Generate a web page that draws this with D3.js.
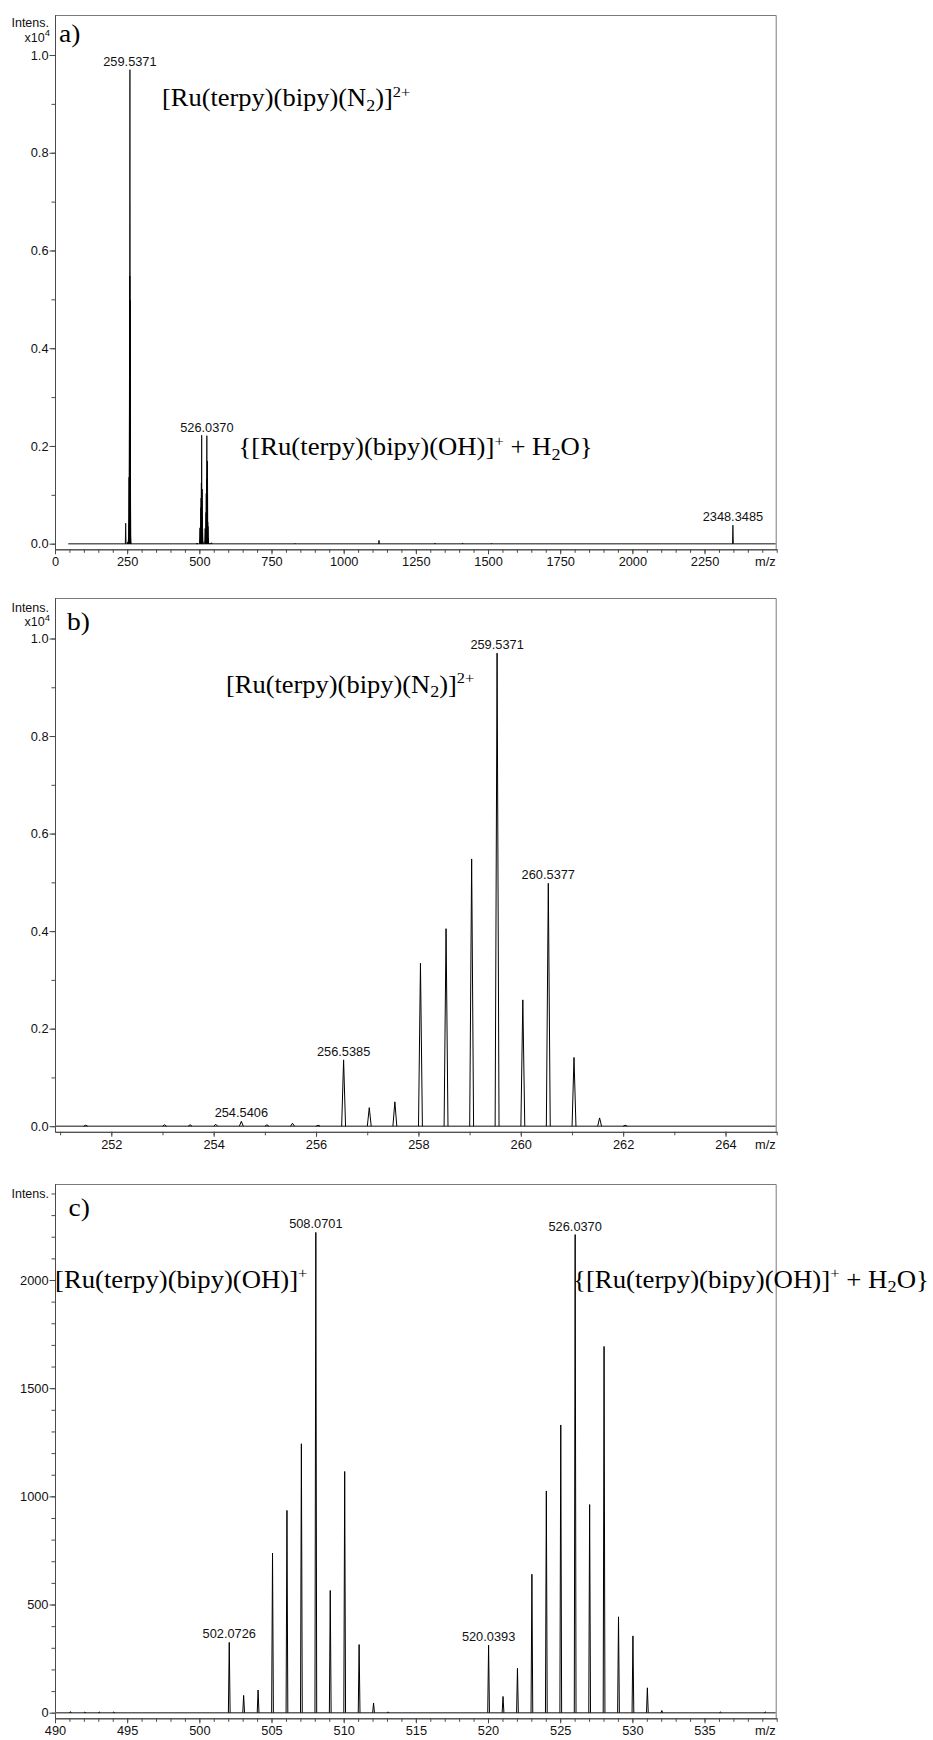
<!DOCTYPE html>
<html><head><meta charset="utf-8">
<script src="https://cdn.jsdelivr.net/npm/d3@7"></script>
<style>body{margin:0;background:#fff}svg{display:block}text{white-space:pre}</style>
</head><body>
<svg id="chart" width="933" height="1740"></svg>
<script>
// ---------- DATA ----------
// panel b: isotope pattern of [Ru(terpy)(bipy)(N2)]2+ (intensity x10^4)
const bMz  = [251.50,253.04,253.54,254.04,254.5406,255.04,255.54,256.04,256.5385,257.04,257.54,258.04,258.54,259.04,259.5371,260.04,260.5377,261.04,261.54,262.04];
const bInt = [0.002,0.003,0.003,0.004,0.010,0.003,0.006,0.002,0.136,0.038,0.050,0.334,0.405,0.548,0.970,0.259,0.498,0.141,0.017,0.002];
// panel c: 490-540 region (counts)
const cMz  = [491.07,492.07,493.07,494.07,502.0726,503.07,504.07,505.07,506.07,507.07,508.0701,509.07,510.07,511.07,512.07,513.07,520.0393,521.04,522.04,523.04,524.04,525.04,526.0370,527.04,528.04,529.04,530.04,531.04,532.04,536.10,539.20];
const cInt = [5,3,3,3,325,80,105,738,935,1243,2220,565,1115,315,45,4,312,75,205,640,1025,1330,2210,962,1693,443,355,115,10,3,4];
// panel a: further peaks of the full scan (intensity x10^4)
const aMz  = [244.9,542.6,831.0,1122.3,1316.0,1412.0,1512.0,2348.3485];
const aInt = [0.042,0.002,0.001,0.007,0.0015,0.0015,0.001,0.038];
const aScanStart = 46;

// annotated peaks
const aLabels = [259.5371, 526.0370, 2348.3485];
const bLabels = [254.5406, 256.5385, 259.5371, 260.5377];
const cLabels = [502.0726, 508.0701, 520.0393, 526.0370];

// axis ticks
const aXTicks = [0,250,500,750,1000,1250,1500,1750,2000,2250];
const bXTicks = [252,254,256,258,260,262,264];
const cXTicks = [490,495,500,505,510,515,520,525,530,535];
const abYTicks = [0,0.2,0.4,0.6,0.8,1.0];
const cYTicks = [0,500,1000,1500,2000];

// ---------- LAYOUT ----------
const X0 = 55, X1 = 776.7;
const SANS = "'Liberation Sans', Arial, sans-serif";
const SERIF = "'Liberation Serif', 'Times New Roman', serif";
const FS = 12.8;
const svg = d3.select("#chart");

const aPeaksMz = bMz.concat(cMz, aMz);
const aPeaksInt = bInt.concat(cInt.map(v => v / 10000), aInt);

const panels = [
  {top:15, bottom:549.3, zeroY:543.7, refVal:1.0, refY:55, xDomain:[0,2500],
   mz:aPeaksMz, int:aPeaksInt, hw:1.4, fill:true, baseStart:aScanStart,
   xTicks:aXTicks, xMinor:50, yTicks:abYTicks, yFmt:d3.format(".1f"), yMinor:d3.range(0,1.0001,0.1),
   labels:aLabels, intensY:27, expY:41.7},
  {top:598, bottom:1131.8, zeroY:1126.2, refVal:1.0, refY:638.5, xDomain:[250.9,265.0],
   mz:bMz, int:bInt, hw:0.038, fill:false, baseStart:250.9,
   xTicks:bXTicks, xMinor:1, yTicks:abYTicks, yFmt:d3.format(".1f"), yMinor:d3.range(0,1.0001,0.1),
   labels:bLabels, intensY:611.5, expY:626},
  {top:1184, bottom:1718.3, zeroY:1712.7, refVal:2000, refY:1280, xDomain:[490,540],
   mz:cMz, int:cInt, hw:0.06, fill:false, baseStart:490,
   xTicks:cXTicks, xMinor:1, yTicks:cYTicks, yFmt:d3.format("d"), yMinor:d3.range(0,2401,100),
   labels:cLabels, intensY:null, expY:null}
];

function drawPanel(p) {
  const k = (p.zeroY - p.refY) / p.refVal;
  const y = d3.scaleLinear().domain([-(p.bottom - p.zeroY) / k, (p.zeroY - p.top) / k]).range([p.bottom, p.top]);
  const x = d3.scaleLinear().domain(p.xDomain).range([X0, X1]);
  const g = svg.append("g");

  // frame (top + right)
  g.append("path").attr("d", `M${X0},${p.top + .5}H${X1 - .5}V${p.bottom}`)
    .attr("fill", "none").attr("stroke", "#7a7a7a").attr("stroke-width", 1);

  // y axis
  const minorX = d3.range(Math.ceil(p.xDomain[0] / p.xMinor) * p.xMinor, p.xDomain[1] + 1e-9, p.xMinor);
  g.append("g").attr("transform", `translate(${X0},0)`)
    .call(d3.axisLeft(y).tickValues(p.yMinor).tickFormat("").tickSize(3.5).tickSizeOuter(0));
  g.append("g").attr("transform", `translate(${X0},0)`)
    .call(d3.axisLeft(y).tickValues(p.yTicks).tickFormat(p.yFmt).tickSize(5.5).tickPadding(1).tickSizeOuter(0));
  // x axis
  g.append("g").attr("transform", `translate(0,${p.bottom})`)
    .call(d3.axisBottom(x).tickValues(minorX).tickFormat("").tickSize(3.5).tickSizeOuter(0));
  g.append("g").attr("transform", `translate(0,${p.bottom})`)
    .call(d3.axisBottom(x).tickValues(p.xTicks).tickFormat(d3.format("d")).tickSize(5).tickPadding(3).tickSizeOuter(0));

  g.selectAll(".domain, .tick line").attr("stroke", "#4a4a4a");
  g.selectAll(".tick text").attr("font-family", SANS).attr("font-size", FS).attr("fill", "#111");

  g.append("text").attr("x", X1 - 1).attr("y", p.bottom + 17).attr("text-anchor", "end")
    .attr("font-family", SANS).attr("font-size", FS).attr("fill", "#111").text("m/z");

  // Intens. label
  const iy = p.intensY !== null ? p.intensY : y(2400) + 4.5;
  g.append("text").attr("x", 49).attr("y", iy).attr("text-anchor", "end")
    .attr("font-family", SANS).attr("font-size", 12.5).attr("fill", "#111").text("Intens.");
  if (p.expY !== null) {
    const t = g.append("text").attr("x", 50).attr("y", p.expY).attr("text-anchor", "end")
      .attr("font-family", SANS).attr("font-size", 12.5).attr("fill", "#111");
    t.append("tspan").text("x10");
    t.append("tspan").attr("font-size", 9.5).attr("dy", -5.5).text("4");
  }

  // baseline
  g.append("line").attr("x1", x(p.baseStart)).attr("x2", X1 - 1)
    .attr("y1", y(0)).attr("y2", y(0)).attr("stroke", "#606060").attr("stroke-width", 1.4);

  // peaks
  const line = d3.line().x(d => x(d[0])).y(d => y(d[1]));
  const peaks = p.mz.map((m, i) => ({m, v: p.int[i]}));
  g.append("g").selectAll("path").data(peaks).join("path")
    .attr("d", d => line([[d.m - p.hw, 0], [d.m, d.v], [d.m + p.hw, 0]]))
    .attr("fill", p.fill ? "#000" : "none")
    .attr("stroke", "#000").attr("stroke-width", p.fill ? 0.8 : 1).attr("stroke-linejoin", "miter");

  // peak labels
  p.labels.forEach(m => {
    const i = p.mz.findIndex(v => Math.abs(v - m) < 1e-3);
    g.append("text").attr("x", x(m)).attr("y", y(p.int[i]) - 4).attr("text-anchor", "middle")
      .attr("font-family", SANS).attr("font-size", FS).attr("fill", "#111").text(m.toFixed(4));
  });
}
panels.forEach(drawPanel);

// ---------- serif annotations ----------
function formula(x, y, parts, size, sx) {
  const t = svg.append("text").attr("transform", `translate(${x},${y}) scale(${sx},1)`)
    .attr("font-family", SERIF).attr("font-size", size).attr("fill", "#000");
  let cur = 0;
  parts.forEach(p => {
    const s = typeof p === "string" ? {t: p, shift: 0, sc: 1}
      : p.sub ? {t: p.sub, shift: size * 0.2, sc: 0.68}
      : {t: p.sup, shift: -size * 0.38, sc: 0.62};
    t.append("tspan").attr("font-size", size * s.sc).attr("dy", s.shift - cur).text(s.t);
    cur = s.shift;
  });
}
const N2formula = ["[Ru(terpy)(bipy)(N", {sub: "2"}, ")]", {sup: "2+"}];
const OHformula = ["[Ru(terpy)(bipy)(OH)]", {sup: "+"}];
const H2Oformula = ["{[Ru(terpy)(bipy)(OH)]", {sup: "+"}, " + H", {sub: "2"}, "O}"];

formula(59, 41.7, ["a)"], 25, 1.1);
formula(67, 629.5, ["b)"], 25, 1.1);
formula(68.5, 1215.5, ["c)"], 25, 1.1);

formula(162, 106, N2formula, 24.5, 1.08);
formula(238.5, 455, H2Oformula, 24.5, 1.09);
formula(226, 692.5, N2formula, 24.5, 1.08);
formula(55, 1287.5, OHformula, 24.5, 1.09);
formula(573, 1287.5, H2Oformula, 24.5, 1.095);
</script>
</body></html>
